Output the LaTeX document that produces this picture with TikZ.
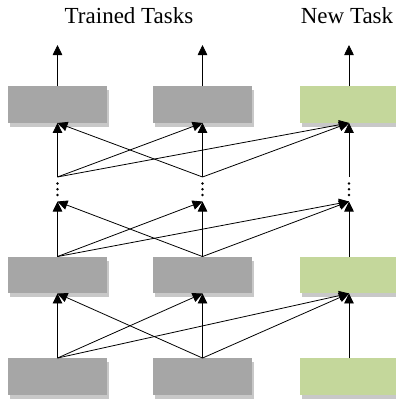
\documentclass[tikz,border=0pt]{standalone}
\usepackage{fontspec}
\setmainfont{Liberation Serif}
\usetikzlibrary{arrows.meta,shadows}
\definecolor{boxgray}{HTML}{A6A6A6}
\definecolor{shadowgray}{HTML}{C8C8C8}
\definecolor{boxgreen}{HTML}{C4D79B}
\begin{document}
\begin{tikzpicture}[x=1pt,y=-1pt,
  layerbox/.style={rectangle, minimum width=99pt, minimum height=36.5pt, inner sep=0pt,
    drop shadow={shadow xshift=2pt, shadow yshift=-4pt, fill=shadowgray, opacity=1}},
  oldbox/.style={layerbox, fill=boxgray},
  newbox/.style={layerbox, fill=boxgreen},
  conn/.style={line width=0.8pt, -{Triangle[length=10pt,width=9.5pt]}},
  dotmark/.style={circle, fill=black, inner sep=0pt, minimum size=2.8pt},
  title/.style={font=\fontsize{23}{27}\selectfont, inner sep=0pt, anchor=base}]
\useasboundingbox (0,0) rectangle (396,399);
% titles
\node[title] (tt) at (129,23) {Trained Tasks};
\node[title] (nt) at (347,23) {New Task};
% boxes
\node[oldbox] (t1) at (57.5,104.5) {};
\node[oldbox] (t2) at (202.5,104.5) {};
\node[newbox] (t3) at (349,104.5) {};
\node[oldbox] (m1) at (57.5,275) {};
\node[oldbox] (m2) at (202.5,275) {};
\node[newbox] (m3) at (349,275) {};
\node[oldbox] (b1) at (57.5,376.5) {};
\node[oldbox] (b2) at (202.5,376.5) {};
\node[newbox] (b3) at (349,376.5) {};
% output ends
\coordinate (o1) at (57.5,45);
\coordinate (o2) at (202.5,45);
\coordinate (o3) at (349,45);
% upper starts and lower ends around the dots
\coordinate (u1) at (57.5,177);
\coordinate (u2) at (202.5,177);
\coordinate (u3) at (349,177);
\coordinate (d1) at (57.5,201.5);
\coordinate (d2) at (202.5,201.5);
\coordinate (d3) at (349,201.5);
% dots
\foreach \c/\x in {1/57.5,2/202.5,3/349}{
  \node[dotmark] (v\c a) at (\x,183.5) {};
  \node[dotmark] (v\c b) at (\x,189.3) {};
  \node[dotmark] (v\c c) at (\x,195) {};
}
% output arrows
\draw[conn] (t1.north) -- (o1);
\draw[conn] (t2.north) -- (o2);
\draw[conn] (t3.north) -- (o3);
% upper connections
\foreach \i in {1,2}{
  \foreach \j in {1,2,3}{
    \draw[conn] (u\i) -- (t\j.south);
  }
}
\draw[conn] (u3) -- (t3.south);
% middle connections
\foreach \i in {1,2}{
  \foreach \j in {1,2,3}{
    \draw[conn] (m\i.north) -- (d\j);
  }
}
\draw[conn] (m3.north) -- (d3);
% lower connections
\foreach \i in {1,2}{
  \foreach \j in {1,2,3}{
    \draw[conn] (b\i.north) -- (m\j.south);
  }
}
\draw[conn] (b3.north) -- (m3.south);
\end{tikzpicture}
\end{document}
